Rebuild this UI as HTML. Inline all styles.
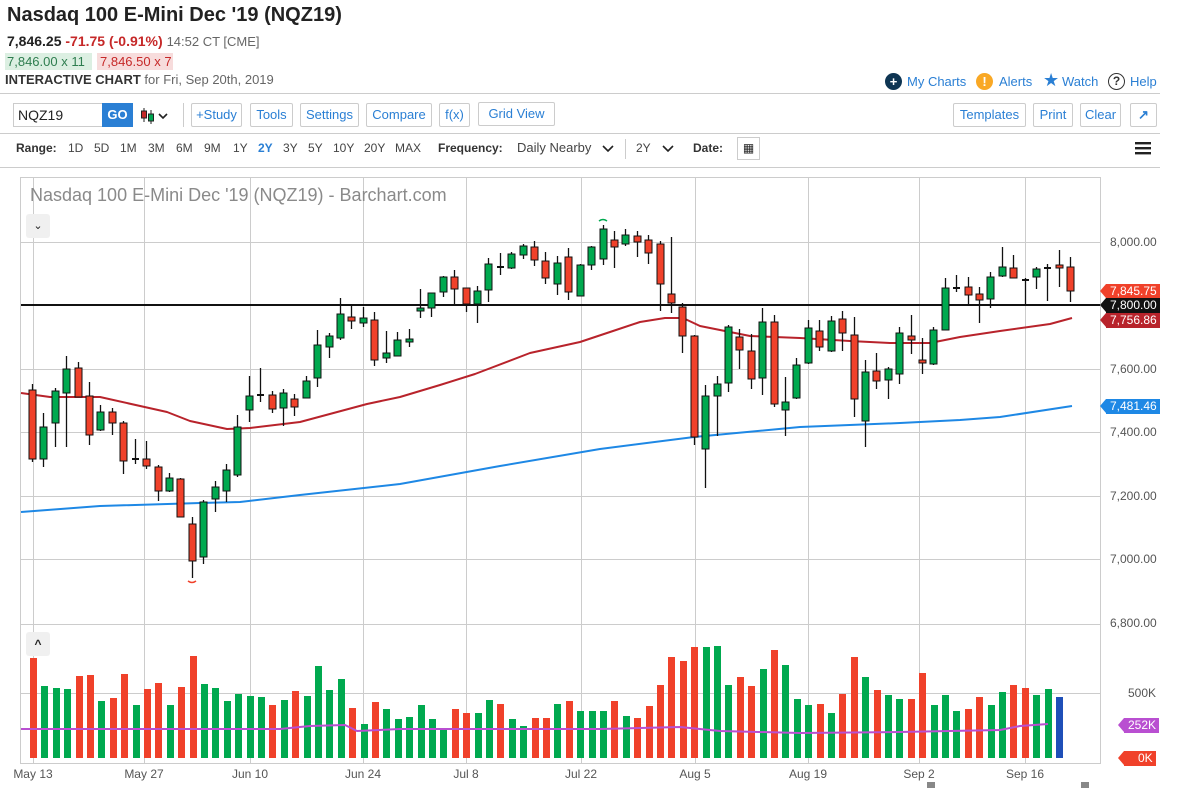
<!DOCTYPE html>
<html><head><meta charset="utf-8">
<style>
*{margin:0;padding:0;box-sizing:border-box}
body{width:1179px;height:788px;background:#fff;font-family:"Liberation Sans",sans-serif;position:relative;overflow:hidden;color:#222}
.a{position:absolute;white-space:nowrap}
.btn{position:absolute;top:103px;height:24px;border:1px solid #ccc;border-radius:2px;color:#2a7fd4;font-size:13px;line-height:22px;text-align:center}
.hr{position:absolute;left:0;width:1160px;height:1px;background:#ccc}
.rg{position:absolute;top:141px;font-size:12px;color:#444}
.tag{position:absolute;left:1106px;height:15px;color:#fff;font-size:12px;line-height:15px;padding:0 3px 0 4px}
.tag:before{content:"";position:absolute;left:-6px;top:0;border-right:6px solid;border-right-color:inherit;border-top:7.5px solid transparent;border-bottom:7.5px solid transparent}
.ax{position:absolute;left:1110px;font-size:12px;color:#555}
.lk{position:absolute;top:74px;font-size:13px;color:#2a7fd4}
.ic{position:absolute;top:73px;width:17px;height:17px;border-radius:50%;color:#fff;text-align:center;line-height:17px;font-weight:bold;font-size:13px}
</style></head><body>
<div class="a" style="left:7px;top:4px;font-size:20px;font-weight:bold;color:#222">Nasdaq 100 E-Mini Dec '19 (NQZ19)</div>
<div class="a" style="left:7px;top:33px;font-size:14px;"><b>7,846.25</b> <b style="color:#c62828">-71.75 (-0.91%)</b> <span style="font-size:13px;color:#666">14:52 CT [CME]</span></div>
<div class="a" style="left:5px;top:53px;width:87px;height:17px;background:#dcefe2;color:#2e7d4f;font-size:13px;line-height:17px;padding-left:2px">7,846.00 x 11</div>
<div class="a" style="left:97px;top:53px;width:76px;height:17px;background:#f7dcdc;color:#c62828;font-size:13px;line-height:17px;padding-left:3px">7,846.50 x 7</div>
<div class="a" style="left:5px;top:72px;font-size:13px;"><b style="color:#333">INTERACTIVE CHART</b> <span style="color:#666">for Fri, Sep 20th, 2019</span></div>
<div class="ic" style="left:885px;background:#0e3553">+</div><div class="lk" style="left:907px">My Charts</div>
<div class="ic" style="left:976px;background:#f9a825">!</div><div class="lk" style="left:999px">Alerts</div>
<div class="lk" style="left:1043px;top:70px;font-size:18px">★</div><div class="lk" style="left:1062px">Watch</div>
<div class="ic" style="left:1108px;border:1.5px solid #333;color:#333;line-height:14px;font-size:12px">?</div><div class="lk" style="left:1130px">Help</div>
<div class="hr" style="top:93px"></div>
<div class="a" style="left:13px;top:103px;width:90px;height:24px;border:1px solid #ccc;font-size:14px;line-height:22px;padding-left:4px">NQZ19</div>
<div class="a" style="left:102px;top:103px;width:31px;height:24px;background:#2a7fd4;color:#fff;font-weight:bold;font-size:13px;line-height:24px;text-align:center">GO</div>
<svg class="a" style="left:140px;top:106px" width="32" height="20"><line x1="4" y1="2" x2="4" y2="16" stroke="#222"/><rect x="1.5" y="5" width="5" height="7" fill="#c62828" stroke="#222"/><line x1="11" y1="4" x2="11" y2="18" stroke="#222"/><rect x="8.5" y="8" width="5" height="7" fill="#00a651" stroke="#222"/><path d="M19 8l4 4 4-4" fill="none" stroke="#222" stroke-width="1.6"/></svg>
<div class="a" style="left:183px;top:103px;width:1px;height:24px;background:#ccc"></div>
<div class="btn" style="left:191px;width:51px">+Study</div>
<div class="btn" style="left:250px;width:43px">Tools</div>
<div class="btn" style="left:300px;width:59px">Settings</div>
<div class="btn" style="left:366px;width:66px">Compare</div>
<div class="btn" style="left:439px;width:31px">f(x)</div>
<div class="btn" style="left:478px;width:77px;top:102px">Grid View</div>
<div class="btn" style="left:953px;width:73px">Templates</div>
<div class="btn" style="left:1033px;width:40px">Print</div>
<div class="btn" style="left:1080px;width:41px">Clear</div>
<div class="btn" style="left:1130px;width:27px;font-weight:bold">↗</div>
<div class="hr" style="top:133px"></div>
<div class="rg" style="left:16px;font-weight:bold;color:#333">Range:</div>
<div class="rg" style="left:68px">1D</div><div class="rg" style="left:94px">5D</div><div class="rg" style="left:120px">1M</div><div class="rg" style="left:148px">3M</div><div class="rg" style="left:176px">6M</div><div class="rg" style="left:204px">9M</div><div class="rg" style="left:233px">1Y</div><div class="rg" style="left:258px;color:#2a7fd4;font-weight:bold">2Y</div><div class="rg" style="left:283px">3Y</div><div class="rg" style="left:308px">5Y</div><div class="rg" style="left:333px">10Y</div><div class="rg" style="left:364px">20Y</div><div class="rg" style="left:395px">MAX</div>
<div class="rg" style="left:438px;font-weight:bold;color:#333">Frequency:</div>
<div class="rg" style="left:517px;font-size:13px;top:140px">Daily Nearby</div>
<svg class="a" style="left:602px;top:144px" width="12" height="10"><path d="M1 2l5 5 5-5" fill="none" stroke="#222" stroke-width="1.6"/></svg>
<div class="a" style="left:625px;top:139px;width:1px;height:20px;background:#ccc"></div>
<div class="rg" style="left:636px">2Y</div>
<svg class="a" style="left:662px;top:144px" width="12" height="10"><path d="M1 2l5 5 5-5" fill="none" stroke="#222" stroke-width="1.6"/></svg>
<div class="rg" style="left:693px;font-weight:bold;color:#333">Date:</div>
<div class="a" style="left:737px;top:137px;width:23px;height:23px;border:1px solid #ccc;font-size:12px;text-align:center;line-height:21px">▦</div>
<svg class="a" style="left:1135px;top:141px" width="16" height="14"><rect y="1" width="16" height="2.4" fill="#222"/><rect y="6" width="16" height="2.4" fill="#222"/><rect y="11" width="16" height="2.4" fill="#222"/></svg>
<div class="hr" style="top:167px"></div>
<svg id="ch" class="a" style="left:0;top:0" width="1179" height="788"></svg>
<div class="a" style="left:30px;top:185px;font-size:18px;color:#8a8a8a">Nasdaq 100 E-Mini Dec '19 (NQZ19) - Barchart.com</div>
<div class="a" style="left:26px;top:214px;width:24px;height:24px;background:#f0f0f0;border-radius:3px;text-align:center;font-size:11px;line-height:24px">⌄</div>
<div class="a" style="left:26px;top:632px;width:24px;height:24px;background:#f0f0f0;border-radius:3px;text-align:center;font-size:12px;line-height:24px;font-weight:bold">^</div>
<div class="ax" style="top:235px">8,000.00</div>
<div class="ax" style="top:362px">7,600.00</div>
<div class="ax" style="top:425px">7,400.00</div>
<div class="ax" style="top:489px">7,200.00</div>
<div class="ax" style="top:552px">7,000.00</div>
<div class="ax" style="top:616px">6,800.00</div>
<div class="ax" style="top:686px;left:1128px">500K</div>
<div class="tag" style="top:284px;background:#f0412a;border-color:#f0412a">7,845.75</div>
<div class="tag" style="top:298px;background:#111;border-color:#111">7,800.00</div>
<div class="tag" style="top:313px;background:#b8232b;border-color:#b8232b">7,756.86</div>
<div class="tag" style="top:399px;background:#1e88e5;border-color:#1e88e5">7,481.46</div>
<div class="tag" style="top:718px;left:1124px;background:#b94fd1;border-color:#b94fd1">252K</div>
<div class="tag" style="top:751px;left:1124px;background:#f0412a;border-color:#f0412a;padding-left:14px">0K</div>
<script>
var s='';
var G='#00a94f',R='#f0412a';
s+='<rect x="20.5" y="177.5" width="1080" height="586" fill="none" stroke="#ccc"/>';
s+='<line x1="20" y1="624.5" x2="1100" y2="624.5" stroke="#ccc"/>';
[242,369,432,496,559].forEach(function(y){s+='<line x1="20" y1="'+y+'.5" x2="1100" y2="'+y+'.5" stroke="#ccc"/>';});
s+='<line x1="20" y1="693.5" x2="1100" y2="693.5" stroke="#ccc"/>';
var vx=[33,144,250,363,466,581,695,808,919,1025],lb=['May 13','May 27','Jun 10','Jun 24','Jul 8','Jul 22','Aug 5','Aug 19','Sep 2','Sep 16'];
vx.forEach(function(x,i){s+='<line x1="'+x+'.5" y1="178" x2="'+x+'.5" y2="763" stroke="#ccc"/>';s+='<text x="'+x+'" y="778" font-size="12" fill="#555" text-anchor="middle" font-family="Liberation Sans">'+lb[i]+'</text>';});
var red=[[21,393],[50,397],[100,397],[167,412],[190,421],[227,429],[250,428],[300,422],[367,404],[400,397],[440,385],[475,374],[530,353],[580,342],[610,332],[640,322],[665,318],[683,318],[700,326],[750,336],[800,338],[850,341],[890,343],[930,343],[960,337],[1000,331],[1050,324],[1072,318]];
var blue=[[21,512],[100,506],[200,503],[240,502],[300,495],[400,484],[500,466],[600,449],[694,437],[800,427],[900,423],[960,420],[1000,417],[1072,406]];
function pl(a,c,w){return '<polyline points="'+a.map(function(p){return p.join(',')}).join(' ')+'" fill="none" stroke="'+c+'" stroke-width="'+w+'" stroke-linejoin="round"/>';}
s+=pl(red,'#b8232b',2);
s+=pl(blue,'#1e88e5',2);
s+='<line x1="21" y1="305" x2="1100" y2="305" stroke="#111" stroke-width="2"/>';
var c=[['R',390,459,384,462],['G',427,459,413,467],['G',391,423,388,447],['G',369,393,356,447],['R',368,397,362,397],['R',396,435,382,445],['G',412,430,405,431],['R',412,423,408,435],['R',423,461,421,474],['D',459,459,439,464],['R',459,466,441,469],['R',467,491,465,501],['G',478,491,473,492],['R',479,517,478,517],['R',524,561,517,578],['G',502,557,500,564],['G',487,499,481,512],['G',470,491,464,502],['G',427,475,415,477],['G',396,410,376,422],['D',395,395,368,402],['R',395,409,391,413],['G',393,408,389,426],['R',399,407,394,416],['G',381,398,376,398],['G',345,378,330,387],['G',336,347,333,358],['G',314,338,298,340],['R',317,321,305,329],['G',318,323,307,327],['R',320,360,312,366],['G',353,358,331,363],['G',340,356,332,356],['G',339,342,329,347],['G',308,311,289,318],['G',293,308,293,317],['G',277,292,276,297],['R',277,289,270,304],['R',288,304,288,312],['G',291,304,286,323],['G',264,290,258,302],['D',267,267,253,275],['G',254,268,252,269],['G',246,255,244,259],['R',247,260,241,266],['R',261,278,252,284],['G',263,284,256,295],['R',257,292,248,300],['G',265,296,264,296],['G',247,265,246,270],['G',229,259,225,265],['R',240,247,231,268],['G',235,244,229,246],['R',236,242,231,257],['R',240,253,235,264],['R',244,284,241,311],['R',294,303,237,313],['R',307,336,303,353],['R',336,437,335,445],['G',396,449,385,488],['G',384,396,376,436],['G',327,383,325,392],['R',337,350,329,369],['R',351,379,334,389],['G',322,378,308,395],['R',322,404,315,407],['G',402,410,377,436],['G',365,398,358,399],['G',328,363,320,364],['R',331,347,320,351],['G',321,351,316,352],['R',319,333,311,351],['R',335,399,317,417],['G',372,421,360,447],['R',371,381,353,389],['G',369,380,367,399],['G',333,374,327,384],['R',336,340,315,354],['R',360,363,338,374],['G',330,364,327,365],['G',288,330,278,330],['D',288,288,275,292],['R',287,295,277,304],['R',294,300,287,323],['G',277,299,272,308],['G',267,276,247,277],['R',268,278,255,278],['D',280,280,278,305],['G',269,277,267,289],['D',268,268,264,301],['R',265,268,250,287],['R',267,291,257,302]];
c.forEach(function(d,i){var x=Math.round(32+i*11.41);
s+='<line x1="'+(x+0.5)+'" y1="'+d[3]+'" x2="'+(x+0.5)+'" y2="'+d[4]+'" stroke="#111" stroke-width="1.3"/>';
if(d[0]=='D'){s+='<line x1="'+(x-3)+'" y1="'+d[1]+'" x2="'+(x+4)+'" y2="'+d[1]+'" stroke="#111" stroke-width="2"/>';}
else s+='<rect x="'+(x-3)+'" y="'+d[1]+'" width="7" height="'+Math.max(2,d[2]-d[1])+'" fill="'+(d[0]=='G'?G:R)+'" stroke="#111" stroke-width="1"/>';});
s+='<path d="M599 221q4-3 8 0" fill="none" stroke="'+G+'" stroke-width="1.5"/>';
s+='<path d="M188 581q4 3 8 0" fill="none" stroke="'+R+'" stroke-width="1.5"/>';
var v='R658 G686 G688 G689 R676 R675 G701 R698 R674 G705 R689 R683 G705 R687 R656 G684 G688 G701 G694 G696 G697 R705 G700 R691 G696 G666 G690 G679 R708 G724 R702 G709 G719 G717 G705 G719 G730 R709 R713 G713 G700 R704 G719 G726 R718 R718 G704 R701 G711 G711 G711 R701 G716 R718 R706 R685 R657 R661 R647 G647 G646 G685 R677 R686 G669 R650 G665 G699 G705 R704 G713 R694 R657 G677 R690 G695 G699 R699 R673 G705 G695 G711 R709 R697 G705 G692 R685 R688 G695 G689 B697'.split(' ');
v.forEach(function(t,i){var x=Math.round(33+i*11.4);var y=+t.slice(1);var col=t[0]=='G'?G:t[0]=='R'?R:'#1f4fb8';
s+='<rect x="'+(x-3)+'" y="'+y+'" width="7" height="'+(758-y)+'" fill="'+col+'"/>';});
s+=pl([[21,729],[150,729],[280,729],[310,726],[345,725],[357,731],[400,729],[600,729],[680,727],[720,731],[800,733],[900,732],[1000,730],[1020,726],[1048,724]],'#b94fd1',2);
s+='<rect x="927" y="782" width="8" height="6" fill="#888"/><rect x="1081" y="782" width="8" height="6" fill="#888"/>';
document.getElementById('ch').innerHTML=s;
</script>
</body></html>
